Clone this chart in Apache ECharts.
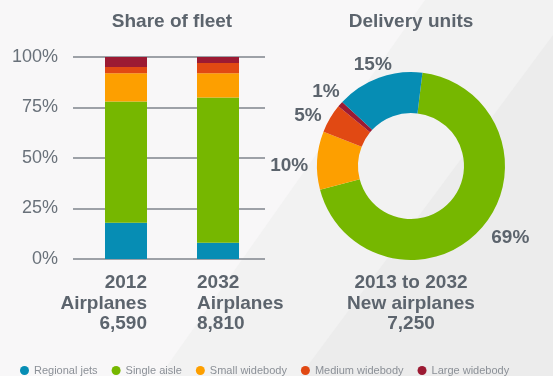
<!DOCTYPE html>
<html>
<head>
<meta charset="utf-8">
<script src="https://cdn.jsdelivr.net/npm/echarts@6/dist/echarts.min.js"></script>
<style>
  html, body { margin: 0; padding: 0; background: #f8f7f8; }
  #chart { width: 553px; height: 376px; }
</style>
</head>
<body>
<div id="chart"></div>
<script>
// fleet share by airplane type (percent)
const fleetYears = ['2012', '2032'];
const fleetTotals = ['6,590', '8,810'];
const typeNames = ['Regional jets', 'Single aisle', 'Small widebody', 'Medium widebody', 'Large widebody'];
const typeColors = ['#068db4', '#76b700', '#fd9f00', '#e14913', '#9c1a33'];
const regionalShare = [18, 8];
const singleAisleShare = [60, 72];
const smallWideShare = [14, 12];
const mediumWideShare = [3, 5];
const largeWideShare = [5, 3];

// deliveries 2013-2032, clockwise from the top
const deliveryNames = ['Single aisle', 'Small widebody', 'Medium widebody', 'Large widebody', 'Regional jets'];
const deliveryShare = [69, 10, 5, 1, 15];
const deliveryPeriod = '2013 to 2032';
const deliveryTotal = '7,250';

const yTicks = [0, 25, 50, 75, 100];

const textGrey = '#5c646d';
const boldFont = 'bold 19px "Liberation Sans", Arial, sans-serif';

const chart = echarts.init(document.getElementById('chart'));

const shares = [regionalShare, singleAisleShare, smallWideShare, mediumWideShare, largeWideShare];
const barSeries = typeNames.map((name, i) => ({
  name: name,
  type: 'bar',
  stack: 'fleet',
  xAxisIndex: 0,
  yAxisIndex: 0,
  barWidth: 42,
  itemStyle: { color: typeColors[i] },
  data: shares[i]
}));

// small nudges so the donut labels sit where the original has them
// (the layout hook seems to get applied twice, so these are half-size)
const labelNudge = { 0: [0, 3], 1: [1, 3], 2: [1, 0], 3: [4.5, -4], 4: [10, -3.5] };

chart.setOption({
  animation: false,
  backgroundColor: '#f8f7f8',
  textStyle: { fontFamily: '"Liberation Sans", Arial, sans-serif' },
  legend: {
    data: typeNames.map(n => ({ name: n, icon: 'circle' })),
    left: 15,
    top: 360,
    itemWidth: 9,
    itemHeight: 9,
    itemGap: 14,
    textStyle: { fontSize: 11, color: '#8b9097' }
  },
  grid: [
    // bars
    { left: 80, top: 57, width: 184, height: 202 },
    // gridlines and tick labels
    { left: 73, top: 57, width: 192, height: 202 }
  ],
  xAxis: [
    { type: 'category', gridIndex: 0, data: fleetYears, show: false },
    { type: 'category', gridIndex: 1, data: fleetYears, show: false }
  ],
  yAxis: [
    { type: 'value', gridIndex: 0, min: 0, max: 100, interval: 25, show: false },
    {
      type: 'value', gridIndex: 1, min: yTicks[0], max: yTicks[yTicks.length - 1], interval: 25,
      axisLine: { show: false },
      axisTick: { show: false },
      splitLine: { lineStyle: { color: '#7f858c', width: 1.5 } },
      axisLabel: { formatter: '{value}%', fontSize: 18, color: '#69717a', margin: 15, padding: [5, 0, 0, 0] }
    }
  ],
  series: barSeries.concat([{
    name: 'Delivery units',
    type: 'pie',
    center: [411, 166],
    radius: [53, 94],
    startAngle: 83,
    clockwise: true,
    avoidLabelOverlap: false,
    label: {
      show: true,
      position: 'outside',
      formatter: '{c}%',
      fontSize: 19,
      fontWeight: 'bold',
      color: textGrey
    },
    labelLine: { show: false, length: 6, length2: 0 },
    labelLayout: function (p) {
      const n = labelNudge[p.dataIndex] || [0, 0];
      return { hideOverlap: false, dx: n[0], dy: n[1] };
    },
    emphasis: { disabled: true },
    data: deliveryNames.map((n, i) => ({
      name: n,
      value: deliveryShare[i],
      itemStyle: { color: typeColors[typeNames.indexOf(n)] }
    }))
  }])
});

// titles, category labels and background bands
const graphics = [
  { type: 'polygon', silent: true, z: -10, shape: { points: [[425, 0], [553, 0], [553, 376], [160, 376]] }, style: { fill: '#f2f2f2' } },
  { type: 'polygon', silent: true, z: -9, shape: { points: [[553, 35], [553, 376], [300, 376]] }, style: { fill: '#ececec' } },
  { type: 'text', x: 172, y: 22, style: { text: 'Share of fleet', font: boldFont, fill: textGrey, align: 'center', verticalAlign: 'middle' } },
  { type: 'text', x: 411, y: 22, style: { text: 'Delivery units', font: boldFont, fill: textGrey, align: 'center', verticalAlign: 'middle' } },
  { type: 'text', x: 411, y: 273, style: { text: deliveryPeriod + '\nNew airplanes\n' + deliveryTotal, font: boldFont, lineHeight: 20.5, fill: textGrey, align: 'center', verticalAlign: 'top' } }
];
fleetYears.forEach((yr, i) => {
  const cx = chart.convertToPixel({ xAxisIndex: 0 }, yr);
  const first = i === 0;
  graphics.push({
    type: 'text',
    x: first ? cx + 21 : cx - 21,
    y: 273,
    style: {
      text: yr + '\nAirplanes\n' + fleetTotals[i],
      font: boldFont,
      lineHeight: 20.5,
      fill: textGrey,
      align: first ? 'right' : 'left',
      verticalAlign: 'top'
    }
  });
});
chart.setOption({ graphic: graphics });
</script>
</body>
</html>
